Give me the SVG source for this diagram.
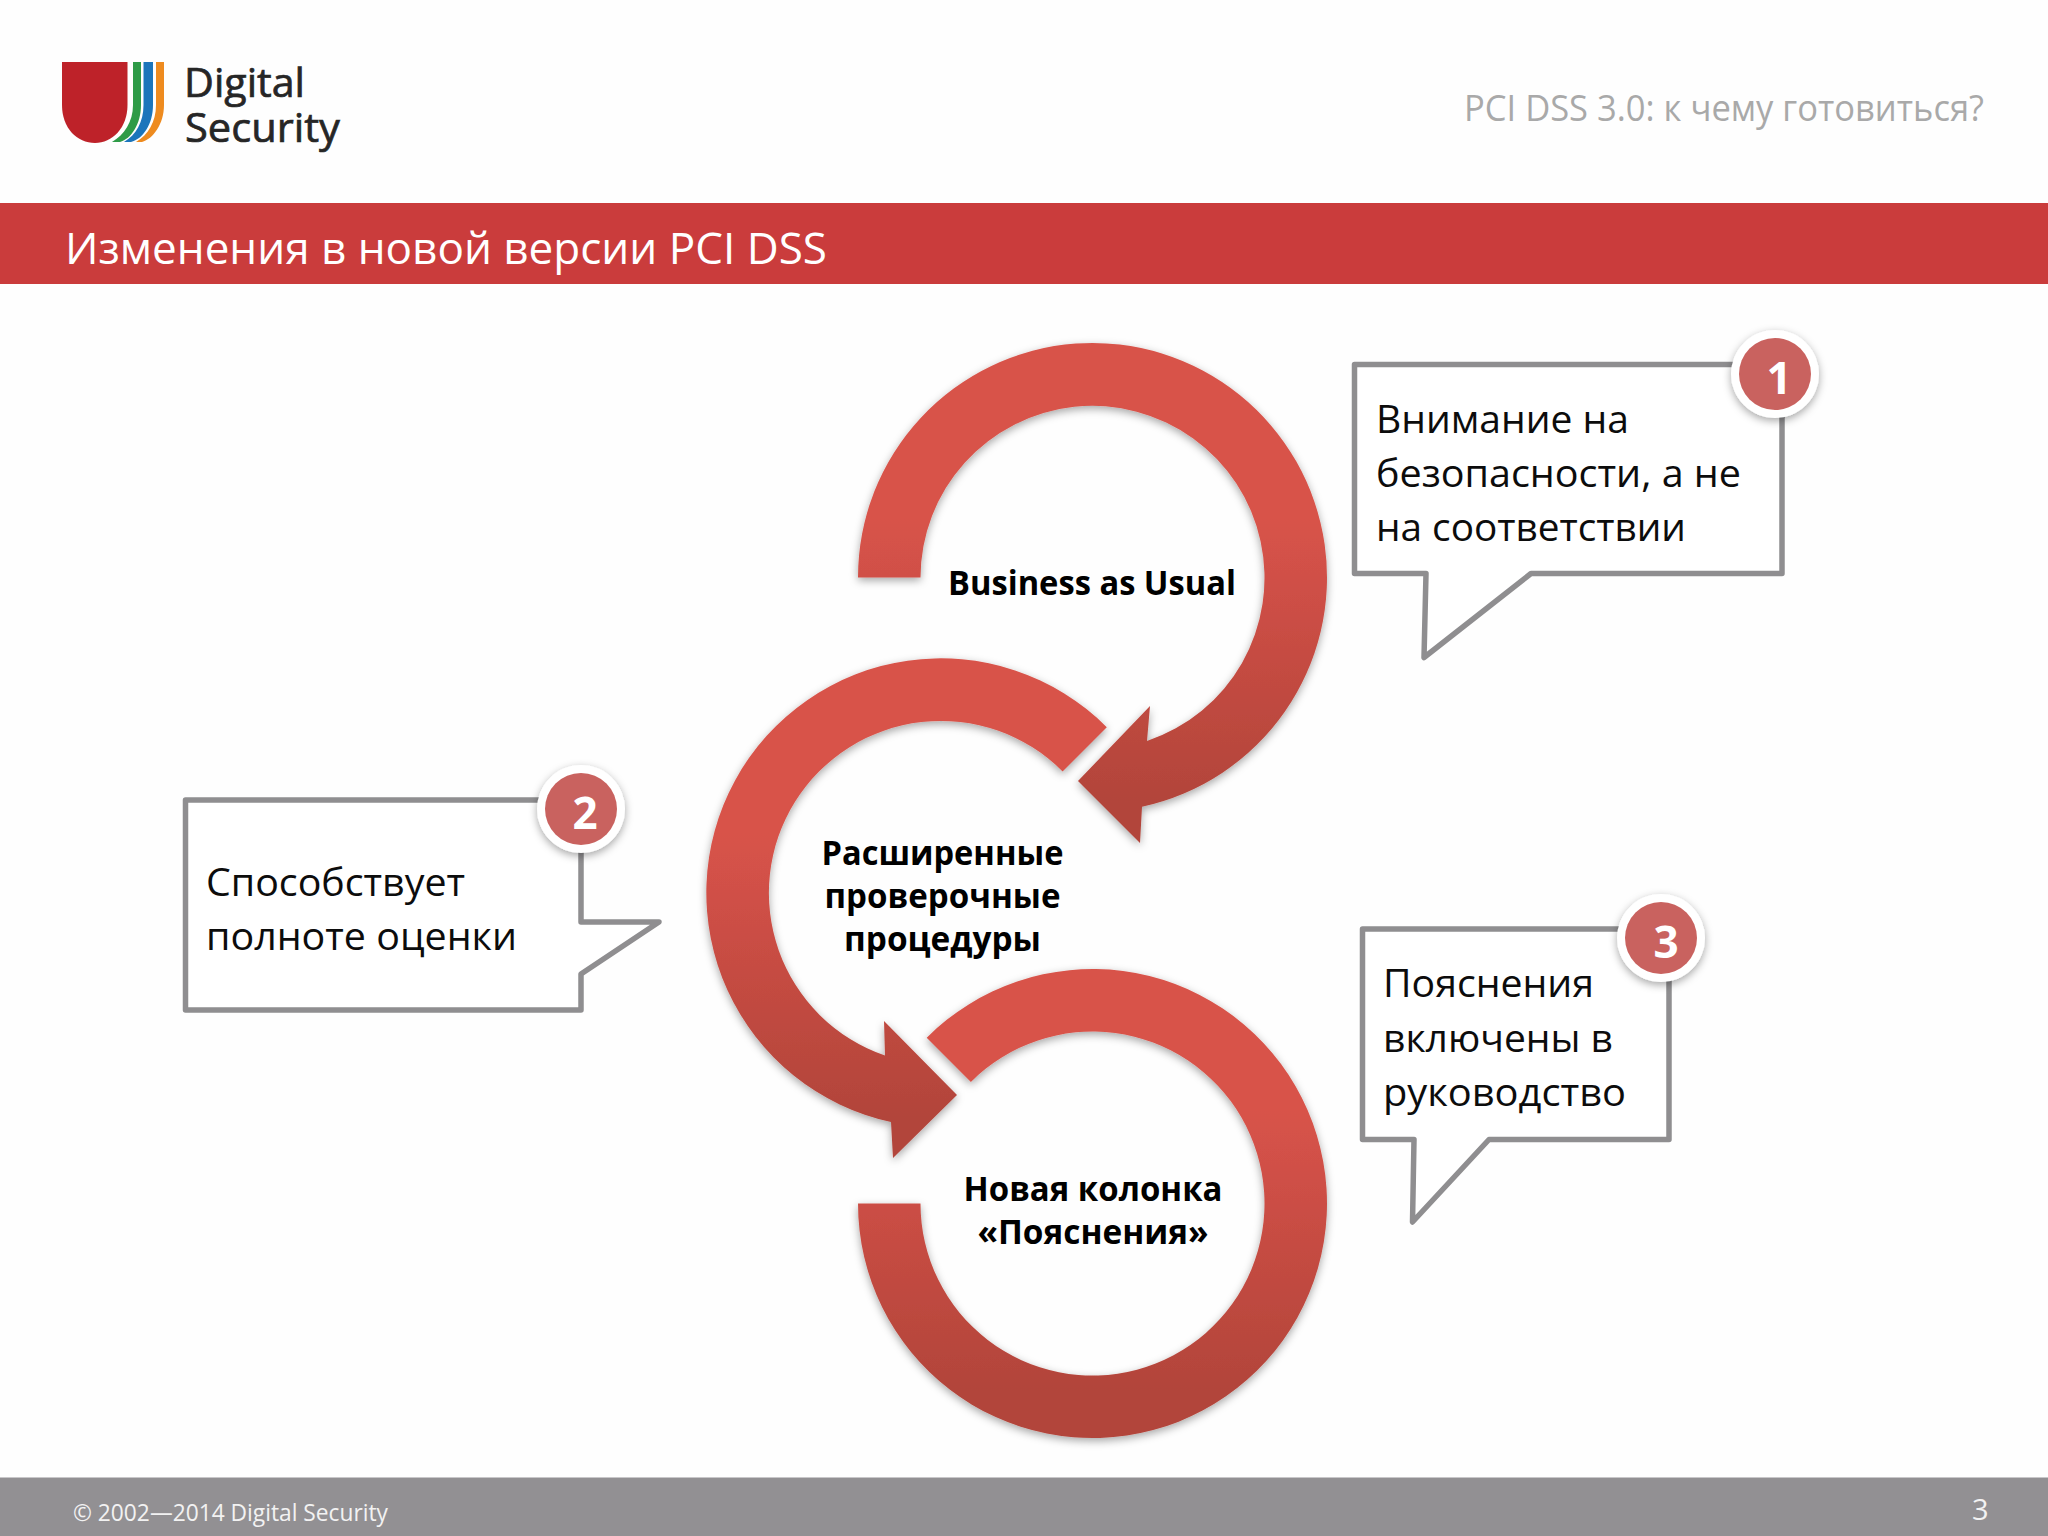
<svg xmlns="http://www.w3.org/2000/svg" width="2048" height="1536" viewBox="0 0 2048 1536">
<style>
text{font-family:"Open Sans","Noto Sans CJK SC",sans-serif}
.co{font-size:39px;fill:#0c0c0c}
.lb{font-size:34.5px;font-weight:700;fill:#000;text-anchor:middle}
.box{fill:#fff;stroke:#8f8e90;stroke-width:5.5;stroke-linejoin:round}
.halo{fill:#fff;filter:url(#sh)}
.dot{fill:#c9625f}
.num{font-size:44px;font-weight:700;fill:#fff;text-anchor:middle}
.logo{font-size:41px;fill:#262626;stroke:#262626;stroke-width:.7}
</style>
<defs>
<linearGradient id="g1" gradientUnits="userSpaceOnUse" x1="0" y1="343" x2="0" y2="843"><stop offset=".35" stop-color="#d8534a"/><stop offset=".92" stop-color="#b2443a"/></linearGradient>
<linearGradient id="g2" gradientUnits="userSpaceOnUse" x1="0" y1="658" x2="0" y2="1158"><stop offset=".35" stop-color="#d8534a"/><stop offset=".92" stop-color="#b2443a"/></linearGradient>
<linearGradient id="g3" gradientUnits="userSpaceOnUse" x1="0" y1="969" x2="0" y2="1438"><stop offset=".3" stop-color="#d8534a"/><stop offset=".9" stop-color="#b2443a"/></linearGradient>
<filter id="sh" x="-20%" y="-20%" width="140%" height="140%"><feDropShadow dx="0" dy="3" stdDeviation="4" flood-color="#000" flood-opacity=".35"/></filter>
</defs>
<rect width="2048" height="1536" fill="#fefefe"/>
<g id="header">
<path d="M62,62H127.5V105C127.5,128 112,143 95,143C77,143 62,128 62,105Z" fill="#be2229"/>
<path d="M133,62H141V105C141,124 131,139 120,142L112,142C124,135 133,122 133,105Z" fill="#2e9b47"/>
<path d="M143.5,62H153V105C153,124 143,139 131,142L124,142C136,135 143.5,122 143.5,105Z" fill="#1b75bb"/>
<path d="M156,62H164V105C164,124 153,139 142,142L136,142C148,135 156,122 156,105Z" fill="#ee8b1f"/>
<text class="logo" x="184" y="97" textLength="121" lengthAdjust="spacingAndGlyphs">Digital</text>
<text class="logo" x="185" y="142" textLength="155" lengthAdjust="spacingAndGlyphs">Security</text>
<text x="1464" y="121" font-size="36" fill="#a9a9a9" textLength="520" lengthAdjust="spacingAndGlyphs">PCI DSS 3.0: к чему готовиться?</text>
<rect y="203" width="2048" height="81" fill="#ca3c3c"/>
<text x="65" y="264" font-size="44" fill="#fff" textLength="762" lengthAdjust="spacingAndGlyphs">Изменения в новой версии PCI DSS</text>
</g>
<g id="connectors" filter="url(#sh)">
<path id="ring-1" fill="url(#g1)" d="M858,577.5A234.5,234.5 0 1 1 1142,806.7L1140,843L1078,781L1150,706L1147,741A172,172 0 1 0 920.5,577.5Z"/>
<path id="ring-2" fill="url(#g2)" d="M1106.8,727.2A234.5,234.5 0 1 0 891,1122L893,1158L957,1095L884,1021L885,1055.6A172,172 0 1 1 1062.6,771.4Z"/>
<path id="ring-3" fill="url(#g3)" d="M926.7,1037.7A234.5,234.5 0 1 1 858,1203.5H920.5A172,172 0 1 0 970.9,1081.9Z"/>
</g>
<g id="node-bau"><text class="lb" x="1092" y="595" textLength="288" lengthAdjust="spacingAndGlyphs">Business as Usual</text></g>
<g id="node-procedures">
<text class="lb" x="942.5" y="865" textLength="242" lengthAdjust="spacingAndGlyphs">Расширенные</text>
<text class="lb" x="942.5" y="908" textLength="236" lengthAdjust="spacingAndGlyphs">проверочные</text>
<text class="lb" x="942.5" y="951" textLength="197" lengthAdjust="spacingAndGlyphs">процедуры</text>
</g>
<g id="node-column">
<text class="lb" x="1093" y="1201" textLength="259" lengthAdjust="spacingAndGlyphs">Новая колонка</text>
<text class="lb" x="1093" y="1244" textLength="231" lengthAdjust="spacingAndGlyphs">«Пояснения»</text>
</g>
<g id="callout-1">
<path class="box" d="M1354.5,364.5H1782V573.5H1531L1424,657.5L1426,573.5H1354.5Z"/>
<circle class="halo" cx="1775" cy="374" r="44"/><circle class="dot" cx="1775" cy="374" r="36"/>
<text class="num" x="1779" y="394">1</text>
<text class="co" x="1376" y="433" textLength="253" lengthAdjust="spacingAndGlyphs">Внимание на</text>
<text class="co" x="1376" y="487" textLength="365" lengthAdjust="spacingAndGlyphs">безопасности, а не</text>
<text class="co" x="1376" y="541" textLength="310" lengthAdjust="spacingAndGlyphs">на соответствии</text>
</g>
<g id="callout-2">
<path class="box" d="M185.5,800H581V922H659L581,974V1010H185.5Z"/>
<circle class="halo" cx="581" cy="809" r="44"/><circle class="dot" cx="581" cy="809" r="36"/>
<text class="num" x="585" y="829">2</text>
<text class="co" x="206" y="896" textLength="259" lengthAdjust="spacingAndGlyphs">Способствует</text>
<text class="co" x="206" y="950" textLength="311" lengthAdjust="spacingAndGlyphs">полноте оценки</text>
</g>
<g id="callout-3">
<path class="box" d="M1362.5,929H1669V1139.5H1489L1412.5,1222L1414,1139.5H1362.5Z"/>
<circle class="halo" cx="1661" cy="938" r="44"/><circle class="dot" cx="1661" cy="938" r="36"/>
<text class="num" x="1666" y="958">3</text>
<text class="co" x="1383" y="997" textLength="211" lengthAdjust="spacingAndGlyphs">Пояснения</text>
<text class="co" x="1383" y="1052" textLength="230" lengthAdjust="spacingAndGlyphs">включены в</text>
<text class="co" x="1383" y="1106" textLength="243" lengthAdjust="spacingAndGlyphs">руководство</text>
</g>
<g id="footer">
<rect y="1477.5" width="2048" height="58.5" fill="#929093"/>
<text x="73" y="1521" font-size="23" fill="#f2f2f2" textLength="315" lengthAdjust="spacingAndGlyphs">© 2002—2014 Digital Security</text>
<text x="1972" y="1520" font-size="29" fill="#f2f2f2">3</text>
</g>
</svg>
